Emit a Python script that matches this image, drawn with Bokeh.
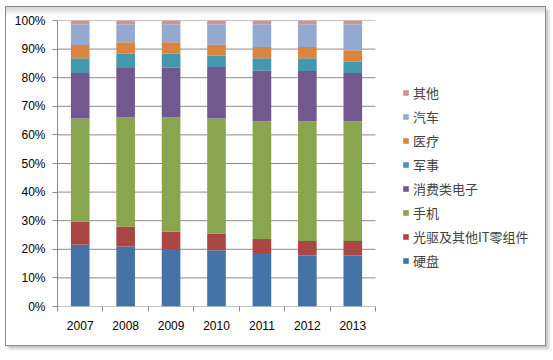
from bokeh.plotting import figure
from bokeh.models import FixedTicker, Legend, LegendItem, ColumnDataSource, Range1d
from bokeh.embed import file_html
from bokeh.resources import INLINE

years = ["2007", "2008", "2009", "2010", "2011", "2012", "2013"]
series_names = ["硬盘", "光驱及其他IT零组件", "手机", "消费类电子", "军事", "医疗", "汽车", "其他"]
hdd = [21.6, 21.0, 20.1, 19.7, 18.7, 17.8, 17.8]
optical = [8.0, 7.0, 6.0, 5.8, 4.9, 5.1, 5.1]
phone = [36.1, 38.1, 40.0, 40.2, 41.2, 41.9, 41.9]
consumer = [15.9, 17.3, 17.4, 18.0, 17.7, 17.5, 16.8]
military = [5.2, 5.0, 4.9, 4.0, 4.3, 4.5, 4.1]
medical = [4.6, 4.0, 4.0, 3.8, 3.9, 3.9, 3.9]
auto = [7.3, 6.3, 6.3, 7.2, 8.0, 8.0, 9.1]
other = [1.3, 1.3, 1.3, 1.3, 1.3, 1.3, 1.3]
colors = ["#4572A7", "#AA4643", "#89A54E", "#71588F", "#4198AF", "#DB843D", "#93A9CF", "#D19392"]
y_ticks = [0, 10, 20, 30, 40, 50, 60, 70, 80, 90, 100]

values = [hdd, optical, phone, consumer, military, medical, auto, other]
xs = list(range(len(years)))
data = {"x": xs}
for name, v in zip(series_names, values):
    data[name] = v
source = ColumnDataSource(data)

W, H = 541, 340
left, right_edge = 51, 537
bars_px = 318
n = len(years)
x_end = -0.5 + n * (right_edge - left) / bars_px

p = figure(width=W, height=H, output_backend="svg", toolbar_location=None,
           x_range=Range1d(-0.5, x_end), y_range=Range1d(0, 100),
           min_border_left=left, min_border_right=W - right_edge, min_border_top=13, min_border_bottom=41)
p.outline_line_color = None
p.background_fill_color = "white"
p.border_fill_color = "white"
p.border_fill_alpha = 0
p.styles = {"border": "1px solid #8a8a8a",
            "background-color": "white",
            "box-shadow": "3px 3px 3px #c8c8c8, inset 0 9px 5px -4px #d8d8d8",
            "margin-left": "5px", "margin-top": "6px"}

# gridlines limited to the bar area
p.segment(x0=[-0.5] * len(y_ticks), x1=[n - 0.5] * len(y_ticks), y0=y_ticks, y1=y_ticks,
          line_color="#8c8c8c", line_width=1)

renderers = p.vbar_stack(series_names, x="x", width=0.41, color=colors, line_color=None, source=source)

# axes
p.xaxis.ticker = FixedTicker(ticks=xs, minor_ticks=[i - 0.5 for i in range(n + 1)])
p.xaxis.major_label_overrides = {i: y for i, y in enumerate(years)}
p.xaxis.major_tick_line_color = None
p.xaxis.major_tick_out = 0
p.xaxis.minor_tick_out = 5
p.xaxis.minor_tick_in = 0
p.xaxis.minor_tick_line_color = "#8a8a8a"
p.xaxis.axis_line_color = None
p.xaxis.major_label_standoff = 9
p.xaxis.major_label_text_font = "Liberation Sans"
p.xaxis.major_label_text_font_size = "12px"
p.xaxis.major_label_text_color = "#000000"

p.yaxis.ticker = FixedTicker(ticks=y_ticks)
p.yaxis.major_label_overrides = {t: f"{t}%" for t in y_ticks}
p.yaxis.major_tick_out = 5
p.yaxis.major_tick_in = 0
p.yaxis.minor_tick_line_color = None
p.yaxis.major_tick_line_color = "#8a8a8a"
p.yaxis.axis_line_color = "#8a8a8a"
p.yaxis.major_label_standoff = 7
p.yaxis.major_label_text_font = "Liberation Sans"
p.yaxis.major_label_text_font_size = "12px"
p.yaxis.major_label_text_color = "#000000"

p.xgrid.grid_line_color = None
p.ygrid.grid_line_color = None

items = [LegendItem(label=nm, renderers=[r]) for nm, r in zip(series_names, renderers)][::-1]
legend = Legend(items=items, location=(345, 36), glyph_width=7, glyph_height=7,
                label_height=19, spacing=5, padding=0, margin=0, label_standoff=4,
                label_text_font="Noto Sans CJK SC", label_text_font_size="13px",
                border_line_color=None, background_fill_alpha=0)
p.add_layout(legend, "center")

open("out.html", "w").write(file_html(p, INLINE))
